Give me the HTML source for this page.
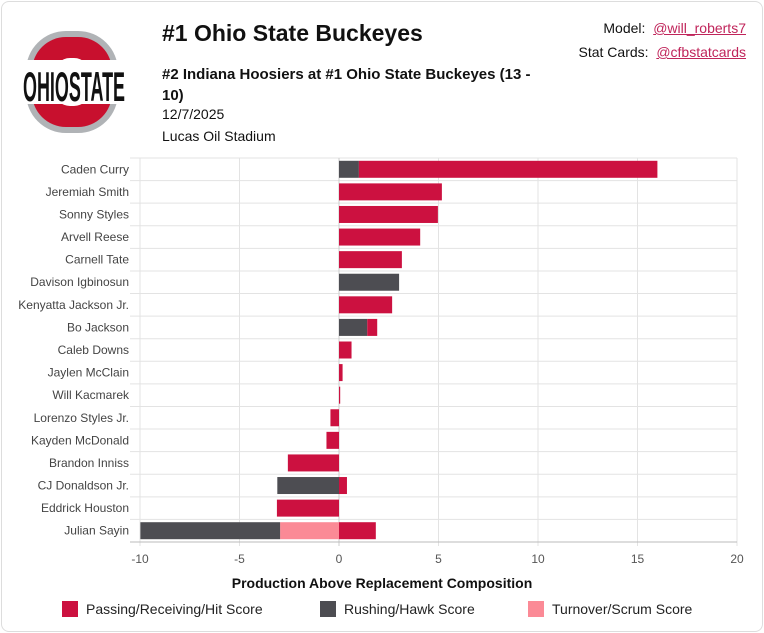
<!DOCTYPE html>
<html><head><meta charset="utf-8">
<style>
body{margin:0;background:#fff;font-family:"Liberation Sans",sans-serif;}
#card{position:absolute;left:1px;top:1px;width:760px;height:629px;border:1px solid #ddd;border-radius:8px;background:#fff;}
.t{position:absolute;color:#111;}
a{color:#c0245a;text-decoration:underline;}
</style></head><body>
<div id="card">
<svg style="position:absolute;left:18px;top:28px" width="110" height="104" viewBox="0 0 110 104">
<rect x="6" y="1" width="92" height="102" rx="40" fill="#b0b3b6"/>
<rect x="12" y="7" width="80" height="90" rx="34" fill="#c8102e"/>
<rect x="34" y="28" width="36" height="48" rx="16" fill="#fff"/>
<rect x="2" y="30" width="104" height="44" fill="#fff"/>
<g transform="translate(54,71) scale(1,1.6)">
<text x="0" y="0" text-anchor="middle" font-family="Liberation Sans Narrow,Liberation Sans,sans-serif" font-weight="bold" font-size="26" textLength="102" lengthAdjust="spacingAndGlyphs" fill="#111">OHIOSTATE</text>
</g>
</svg>
<div class="t" style="left:160px;top:18px;font-size:23px;font-weight:bold">#1 Ohio State Buckeyes</div>
<div class="t" style="left:160px;top:62px;width:420px;font-size:15px;font-weight:bold;line-height:21px">#2 Indiana Hoosiers at #1 Ohio State Buckeyes (13 -<br>10)</div>
<div class="t" style="left:160px;top:104px;font-size:14px">12/7/2025</div>
<div class="t" style="left:160px;top:126px;font-size:14px">Lucas Oil Stadium</div>
<div class="t" style="right:16px;top:18px;font-size:14px">Model:&nbsp; <a>@will_roberts7</a></div>
<div class="t" style="right:16px;top:42px;font-size:14px">Stat Cards:&nbsp; <a>@cfbstatcards</a></div>
</div>
<svg id="chart" style="position:absolute;left:0;top:0" width="764" height="633"></svg>
<script>
const players=["Caden Curry","Jeremiah Smith","Sonny Styles","Arvell Reese","Carnell Tate","Davison Igbinosun","Kenyatta Jackson Jr.","Bo Jackson","Caleb Downs","Jaylen McClain","Will Kacmarek","Lorenzo Styles Jr.","Kayden McDonald","Brandon Inniss","CJ Donaldson Jr.","Eddrick Houston","Julian Sayin"];
const passing=[15.0,5.17,4.97,4.08,3.16,0,2.67,0.5,0.63,0.18,0.06,-0.43,-0.63,-2.57,0.4,-3.12,1.85];
const rushing=[1.0,0,0,0,0,3.02,0,1.42,0,0,0,0,0,0,-3.1,0,-7.02];
const turnover=[0,0,0,0,0,0,0,0,0,0,0,0,0,0,0,0,-2.96];
const xTicks=[-10,-5,0,5,10,15,20];
const NS="http://www.w3.org/2000/svg";
const svg=document.getElementById('chart');
const L=140,R=737,T=158,B=542,xmin=-10,xmax=20;
const x=v=>L+(v-xmin)/(xmax-xmin)*(R-L);
const step=(B-T)/players.length;
const yc=i=>T+step*(i+0.5);
function mk(tag,a){const e=document.createElementNS(NS,tag);for(const k in a)e.setAttribute(k,a[k]);svg.appendChild(e);return e;}
for(let i=0;i<=players.length;i++){const l=mk('line',{x1:130,x2:R,y1:T+step*i,y2:T+step*i,stroke:'#e3e3e3'});

}
xTicks.forEach(t=>{const l=mk('line',{x1:x(t),x2:x(t),y1:T,y2:B+4,stroke:t==0?'#ccc':'#e3e3e3'});


const tx=mk('text',{x:x(t),y:563,'text-anchor':'middle','font-size':12,fill:'#555'});tx.textContent=t;

});
const ax=mk('line',{x1:130,x2:R,y1:B,y2:B,stroke:'#bbb'});


const cols={p:'#cc1140',r:'#4d4d52',t:'#fb8a96'};
players.forEach((n,i)=>{
 const lb=mk('text',{x:129,y:yc(i)+4,'text-anchor':'end','font-size':12,fill:'#444'});lb.textContent=n;
 
 
 let pos=0,neg=0;
 const order=[['r',rushing[i]],['p',passing[i]],['t',turnover[i]]];
 const negOrder=[['t',turnover[i]],['p',passing[i]],['r',rushing[i]]];
 order.forEach(([k,v])=>{if(v>0){const r=mk('rect',{x:x(pos),y:yc(i)-8.5,width:x(pos+v)-x(pos),height:17,fill:cols[k]});pos+=v;
  
  }});
 negOrder.forEach(([k,v])=>{if(v<0){const r=mk('rect',{x:x(neg+v),y:yc(i)-8.5,width:x(neg)-x(neg+v),height:17,fill:cols[k]});neg+=v;
  
  }});
});
const at=mk('text',{x:382,y:588,'text-anchor':'middle','font-size':14,'font-weight':'bold',fill:'#111'});at.textContent='Production Above Replacement Composition';


[[62,'p','Passing/Receiving/Hit Score'],[320,'r','Rushing/Hawk Score'],[528,'t','Turnover/Scrum Score']].forEach(([lx,k,s])=>{
 const r=mk('rect',{x:lx,y:601,width:16,height:16,fill:cols[k]});
 
 
 const t=mk('text',{x:lx+24,y:614,'font-size':14,fill:'#222'});t.textContent=s;
 
 
});
</script>
</body></html>
